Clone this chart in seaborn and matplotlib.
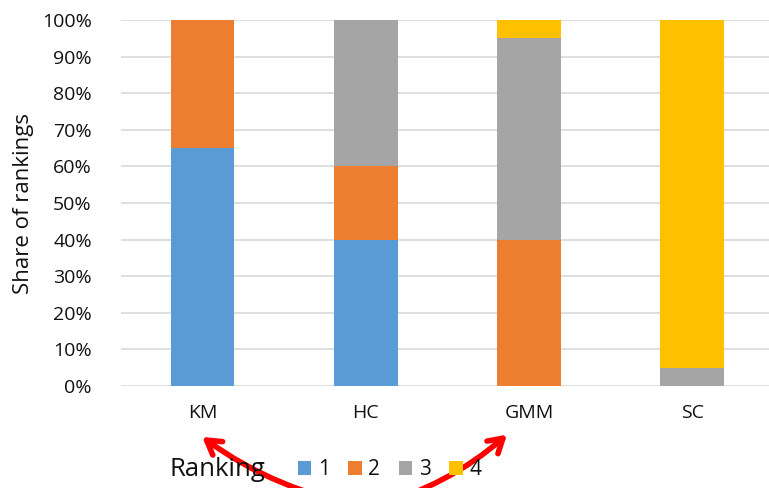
import numpy as np
import pandas as pd
import matplotlib
matplotlib.use("Agg")
import matplotlib.pyplot as plt
from matplotlib.patches import Patch, FancyArrowPatch
import seaborn as sns

# Share of times each clustering method received each ranking
methods = ["KM", "HC", "GMM", "SC"]
ranks = ["1", "2", "3", "4"]
rank1 = [0.65, 0.40, 0.00, 0.00]
rank2 = [0.35, 0.20, 0.40, 0.00]
rank3 = [0.00, 0.40, 0.55, 0.05]
rank4 = [0.00, 0.00, 0.05, 0.95]
colors = ["#5B9BD5", "#ED7D31", "#A5A5A5", "#FFC000"]

sns.set_theme(style="white")
plt.rcParams["font.family"] = ["Open Sans", "DejaVu Sans"]
txt = "#111111"

shares = np.array([rank1, rank2, rank3, rank4])
cum = np.cumsum(shares, axis=0)
df = pd.DataFrame({"method": methods})
for i, r in enumerate(ranks):
    df["upto_" + r] = cum[i]

fig = plt.figure(figsize=(7.69, 4.88), dpi=100)
ax = fig.add_axes([0.1573, 0.209, 0.849, 0.750])

# stacked bars: draw cumulative totals from the top rank down
for i in range(len(ranks) - 1, -1, -1):
    sns.barplot(data=df, x="method", y="upto_" + ranks[i], color=colors[i],
                width=0.39, saturation=1, edgecolor="none", ax=ax, zorder=2)

ax.set_ylim(0, 1)
ax.set_xlim(-0.5, len(methods) - 0.5)
ax.set_yticks(np.arange(0, 1.01, 0.1))
ax.set_yticklabels([f"{int(round(v * 100))}%" for v in np.arange(0, 1.01, 0.1)])
ax.yaxis.grid(True, color="#D9D9D9", linewidth=1.2, zorder=0)
ax.set_axisbelow(True)
for s in ax.spines.values():
    s.set_visible(False)
ax.tick_params(axis="both", length=0, labelsize=14, colors=txt)
ax.tick_params(axis="y", pad=21)
ax.tick_params(axis="x", pad=13)
ax.set_xlabel("")
ax.set_ylabel("Share of rankings", fontsize=16, color=txt, labelpad=6)

# legend along the bottom
fig.text(0.221, 0.037, "Ranking", fontsize=18.5, color=txt, va="center", ha="left")
handles = [Patch(facecolor=c, edgecolor="none", label=r) for r, c in zip(ranks, colors)]
fig.legend(handles=handles, loc="center left", bbox_to_anchor=(0.363, 0.037), ncol=4,
           frameon=False, fontsize=15, handlelength=0.65, handleheight=0.65,
           handletextpad=0.3, columnspacing=0.9, labelcolor=txt)

# red curved arrows pointing at KM and GMM
start = (0.48, -0.04)
for end, rad in [((0.26, 0.108), -0.12), ((0.662, 0.113), 0.12)]:
    arr = FancyArrowPatch(start, end, transform=fig.transFigure,
                          connectionstyle=f"arc3,rad={rad}",
                          arrowstyle="->,head_length=10,head_width=6",
                          color="#FF0000", linewidth=4, clip_on=False)
    fig.add_artist(arr)

fig.savefig("out.png", dpi=100)
